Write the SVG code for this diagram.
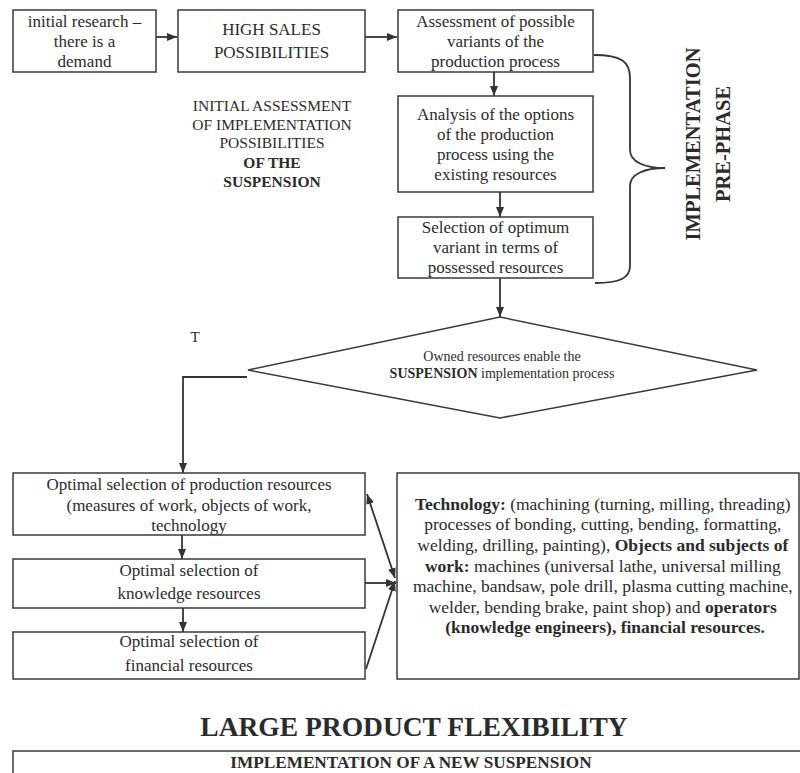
<svg xmlns="http://www.w3.org/2000/svg" width="800" height="773" viewBox="0 0 800 773">
<style>
text{font-family:"Liberation Serif","Times New Roman",serif;fill:#2b2b2b}
.t{font-size:17px;text-anchor:middle}
.b{font-weight:bold}
.box{fill:#fff;stroke:#3a3a3a;stroke-width:1.5}
.ln{fill:none;stroke:#333;stroke-width:1.8}
</style>
<defs>
<marker id="ah" viewBox="0 0 10 8" refX="10" refY="4" markerWidth="10" markerHeight="8" markerUnits="userSpaceOnUse" orient="auto-start-reverse">
<path d="M0,0 L10,4 L0,8 z" fill="#333"/>
</marker>
</defs>
<rect width="800" height="773" fill="#fff"/>

<g id="connectors">
<path class="ln" d="M156,37 H177" marker-end="url(#ah)"/>
<path class="ln" d="M365,37 H397" marker-end="url(#ah)"/>
<path class="ln" d="M494,72 V96" marker-end="url(#ah)"/>
<path class="ln" d="M500,192 V217" marker-end="url(#ah)"/>
<path class="ln" d="M500,278 V317" marker-end="url(#ah)"/>
<path class="ln" d="M247,377 H183 V473" marker-end="url(#ah)"/>
<path class="ln" d="M182,535 V559" marker-end="url(#ah)"/>
<path class="ln" d="M183,608 V632" marker-end="url(#ah)"/>
<path class="ln" d="M395,578 L367,494" marker-start="url(#ah)" marker-end="url(#ah)"/>
<path class="ln" d="M365,583 H396" marker-end="url(#ah)"/>
<path class="ln" d="M366,669 L395,581" marker-end="url(#ah)"/>
<path class="ln" d="M594,55 C622,55 630,62 630,78 V150 C630,162 645,168 665,168 C645,168 630,174 630,186 V266 C630,278 620,283 595,283"/>
</g>

<g id="n1"><rect class="box" x="13" y="10" width="143" height="62"/>
<text class="t"><tspan x="84.5" y="27">initial research –</tspan><tspan x="84.5" y="47">there is a</tspan><tspan x="84.5" y="67">demand</tspan></text></g>

<g id="n2"><rect class="box" x="178" y="10" width="187" height="62"/>
<text class="t"><tspan x="271.5" y="35">HIGH SALES</tspan><tspan x="271.5" y="58">POSSIBILITIES</tspan></text></g>

<g id="n3"><rect class="box" x="398" y="10" width="195" height="62"/>
<text class="t"><tspan x="495.5" y="27">Assessment of possible</tspan><tspan x="495.5" y="47">variants of the</tspan><tspan x="495.5" y="67">production process</tspan></text></g>

<g id="n4"><rect class="box" x="398" y="96" width="195" height="96"/>
<text class="t"><tspan x="495.5" y="120">Analysis of the options</tspan><tspan x="495.5" y="140">of the production</tspan><tspan x="495.5" y="160">process using the</tspan><tspan x="495.5" y="180">existing resources</tspan></text></g>

<g id="n5"><rect class="box" x="398" y="217" width="195" height="61"/>
<text class="t"><tspan x="495.5" y="233">Selection of optimum</tspan><tspan x="495.5" y="253">variant in terms of</tspan><tspan x="495.5" y="273">possessed resources</tspan></text></g>

<g id="label-initial">
<text class="t" style="font-size:15.5px"><tspan x="272" y="111">INITIAL ASSESSMENT</tspan><tspan x="272" y="130">OF IMPLEMENTATION</tspan><tspan x="272" y="148">POSSIBILITIES</tspan><tspan x="272" y="168" class="b">OF THE</tspan><tspan x="272" y="187" class="b">SUSPENSION</tspan></text>
</g>

<g id="label-prephase">
<text class="t b" style="font-size:20.5px" transform="translate(700,144) rotate(-90)">IMPLEMENTATION</text>
<text class="t b" style="font-size:20.5px" transform="translate(730,144) rotate(-90)">PRE-PHASE</text>
</g>

<g id="decision">
<polygon class="box" points="500,317 757,370 500,418 248,370"/>
<text class="t" style="font-size:14px"><tspan x="502" y="361">Owned resources enable the</tspan><tspan x="502" y="378"><tspan class="b">SUSPENSION</tspan> implementation process</tspan></text>
</g>

<g id="label-T"><text x="195" y="342" style="font-size:15px;text-anchor:middle">T</text></g>

<g id="n6"><rect class="box" x="13" y="473" width="352" height="62"/>
<text class="t"><tspan x="189" y="490">Optimal selection of production resources</tspan><tspan x="189" y="511">(measures of work, objects of work,</tspan><tspan x="189" y="531">technology</tspan></text></g>

<g id="n7"><rect class="box" x="13" y="559" width="352" height="49"/>
<text class="t"><tspan x="189" y="576">Optimal selection of</tspan><tspan x="189" y="599">knowledge resources</tspan></text></g>

<g id="n8"><rect class="box" x="13" y="632" width="352" height="47"/>
<text class="t"><tspan x="189" y="647">Optimal selection of</tspan><tspan x="189" y="671">financial resources</tspan></text></g>

<g id="n9"><rect class="box" x="397" y="473" width="402" height="206"/>
<text class="t" style="font-size:17.5px">
<tspan x="605" y="510"><tspan class="b">Technology:</tspan> (machining (turning, milling, threading)</tspan>
<tspan x="605" y="530">processes of bonding, cutting, bending, formatting,</tspan>
<tspan x="605" y="551">welding, drilling, painting), <tspan class="b">Objects and subjects of</tspan></tspan>
<tspan x="605" y="572"><tspan class="b">work:</tspan> machines (universal lathe, universal milling</tspan>
<tspan x="605" y="592">machine, bandsaw, pole drill, plasma cutting machine,</tspan>
<tspan x="605" y="613">welder, bending brake, paint shop) and <tspan class="b">operators</tspan></tspan>
<tspan x="605" y="633" class="b">(knowledge engineers), financial resources.</tspan>
</text></g>

<g id="title"><text class="t b" x="414" y="736" style="font-size:27.5px">LARGE PRODUCT FLEXIBILITY</text></g>

<g id="n10"><path class="box" d="M13,774 V751 H801" style="fill:none"/>
<text class="t b" x="411" y="768" style="font-size:17.2px">IMPLEMENTATION OF A NEW SUSPENSION</text></g>
</svg>
